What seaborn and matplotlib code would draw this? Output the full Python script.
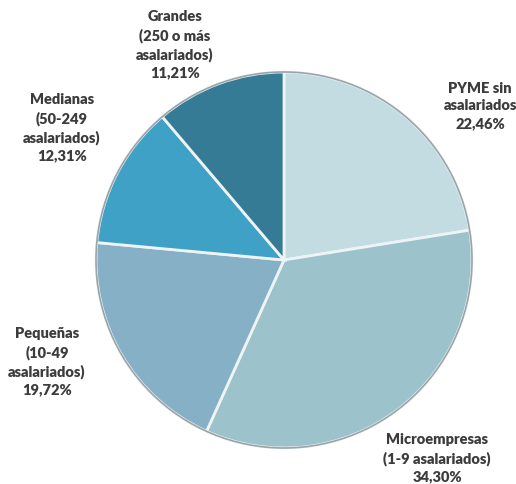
import matplotlib
matplotlib.use("Agg")
import matplotlib.pyplot as plt
import seaborn as sns

categories = ["PYME sin\nasalariados", "Microempresas\n(1-9 asalariados)", "Pequeñas\n(10-49\nasalariados)",
              "Medianas\n(50-249\nasalariados)", "Grandes\n(250 o más\nasalariados)"]
values = [22.46, 34.30, 19.72, 12.31, 11.21]
colors = ["#c3dce1", "#9cc3cb", "#86b0c5", "#40a1c6", "#357b96"]

sns.set_theme(style="white")
plt.rcParams["font.family"] = ["Lato", "DejaVu Sans"]

fig = plt.figure(figsize=(5.16, 4.84), dpi=100)
ax = fig.add_axes([0, 0, 1, 1])

wedges, _ = ax.pie(values, colors=colors, startangle=90, counterclock=False,
                   radius=1.0, wedgeprops=dict(edgecolor="#eef4f6", linewidth=2.0))
# outer rim
ax.pie([1], colors=["none"], radius=1.0, wedgeprops=dict(edgecolor="#9aa5a9", linewidth=1.2, fill=False))

# label positions (pixel centres in the reference)
label_px = [(480, 106), (437, 458), (47, 362), (62, 128), (175, 45)]
for cat, v, (px, py) in zip(categories, values, label_px):
    txt = cat + "\n" + f"{v:.2f}".replace(".", ",") + "%"
    ax.text((px - 284) / 188, (260 - py) / 188, txt, ha="center", va="center",
            fontsize=10.5, fontweight="heavy", color="#3c3c3c", linespacing=1.4)

ax.set_xlim(-284 / 188, (516 - 284) / 188)
ax.set_ylim(-(484 - 260) / 188, 260 / 188)
ax.set_aspect("equal")
ax.axis("off")

fig.savefig("out.png", dpi=100, facecolor="white")
